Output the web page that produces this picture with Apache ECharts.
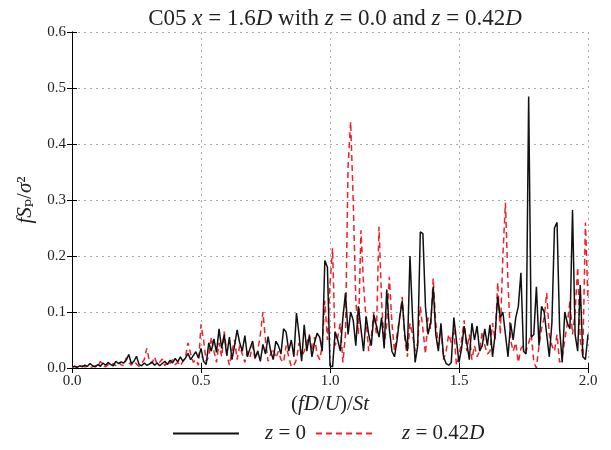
<!DOCTYPE html>
<html><head><meta charset="utf-8">
<script src="https://cdn.jsdelivr.net/npm/echarts@6/dist/echarts.min.js"></script>
<style>html,body{margin:0;padding:0;background:#fff}#c{width:611px;height:450px}</style>
</head><body><div id="c"></div>
<script>
const xTicks = [0.0, 0.5, 1.0, 1.5, 2.0];
const yTicks = [0.0, 0.1, 0.2, 0.3, 0.4, 0.5, 0.6];
const freqStep = 0.01;
const seriesNames = ['z = 0', 'z = 0.42D'];
const z0 = [
0.002,0.003,0.001,0.004,0.002,0.005,0.003,0.008,0.004,0.002,
0.006,0.003,0.009,0.005,0.010,0.006,0.004,0.012,0.008,0.011,
0.009,0.014,0.024,0.008,0.012,0.021,0.006,0.004,0.009,0.005,
0.007,0.011,0.005,0.009,0.004,0.008,0.012,0.006,0.014,0.009,
0.017,0.011,0.020,0.012,0.018,0.026,0.015,0.022,0.029,0.018,
0.035,0.012,0.006,0.045,0.030,0.052,0.028,0.070,0.035,0.060,
0.022,0.055,0.015,0.040,0.068,0.045,0.030,0.058,0.020,0.035,
0.048,0.018,0.030,0.012,0.042,0.025,0.056,0.030,0.015,0.048,
0.040,0.025,0.070,0.064,0.030,0.050,0.020,0.098,0.060,0.012,
0.077,0.030,0.058,0.020,0.045,0.062,0.055,0.030,0.192,0.180,
0.004,0.002,0.065,0.050,0.030,0.090,0.134,0.060,0.100,0.085,
0.040,0.110,0.070,0.030,0.092,0.060,0.040,0.095,0.075,0.055,
0.090,0.035,0.140,0.070,0.030,0.020,0.050,0.090,0.120,0.060,
0.030,0.200,0.090,0.010,0.040,0.243,0.240,0.110,0.060,0.080,
0.145,0.060,0.030,0.080,0.020,0.008,0.005,0.010,0.090,0.050,
0.010,0.035,0.075,0.045,0.015,0.080,0.050,0.075,0.030,0.040,
0.070,0.040,0.077,0.020,0.060,0.127,0.090,0.100,0.060,0.020,
0.080,0.050,0.090,0.110,0.170,0.030,0.025,0.485,0.055,0.060,
0.145,0.040,0.110,0.100,0.060,0.020,0.080,0.250,0.260,0.070,
0.010,0.100,0.080,0.070,0.282,0.060,0.030,0.148,0.020,0.015,
0.060];
const z042 = [
0.001,0.003,0.002,0.001,0.004,0.002,0.003,0.001,0.002,0.004,
0.002,0.012,0.004,0.002,0.006,0.003,0.008,0.004,0.010,0.006,
0.004,0.018,0.010,0.005,0.012,0.007,0.003,0.009,0.015,0.035,
0.012,0.008,0.020,0.006,0.010,0.016,0.004,0.012,0.008,0.015,
0.006,0.010,0.004,0.012,0.020,0.045,0.025,0.010,0.015,0.005,
0.078,0.050,0.012,0.020,0.055,0.030,0.010,0.045,0.020,0.065,
0.025,0.005,0.030,0.050,0.015,0.040,0.025,0.010,0.030,0.020,
0.040,0.015,0.030,0.060,0.100,0.050,0.012,0.025,0.035,0.018,
0.030,0.015,0.010,0.040,0.020,0.002,0.005,0.015,0.045,0.020,
0.030,0.045,0.060,0.030,0.055,0.025,0.015,0.040,0.120,0.050,
0.150,0.214,0.040,0.055,0.080,0.010,0.060,0.360,0.440,0.300,
0.120,0.060,0.246,0.150,0.085,0.030,0.055,0.100,0.060,0.252,
0.120,0.040,0.080,0.163,0.080,0.030,0.060,0.090,0.127,0.050,
0.020,0.080,0.060,0.030,0.045,0.110,0.070,0.025,0.090,0.070,
0.160,0.080,0.040,0.070,0.015,0.030,0.060,0.045,0.070,0.005,
0.020,0.050,0.085,0.030,0.060,0.015,0.040,0.020,0.030,0.065,
0.040,0.025,0.030,0.080,0.050,0.153,0.060,0.200,0.295,0.150,
0.050,0.030,0.045,0.010,0.035,0.040,0.030,0.045,0.060,0.010,
0.000,0.040,0.070,0.090,0.134,0.060,0.040,0.030,0.060,0.010,
0.020,0.050,0.080,0.120,0.060,0.100,0.180,0.050,0.020,0.260,
0.120];

const pairs = arr => arr.map((v, i) => [+(i * freqStep).toFixed(4), v]);
const FONT = '"Liberation Serif", "DejaVu Serif", serif';
const it = { fontStyle: 'italic', fontFamily: FONT, color: '#222' };

const chart = echarts.init(document.getElementById('c'), null, { renderer: 'canvas' });
const axisCommon = {
  type: 'value',
  axisLine: { show: true, lineStyle: { color: '#000', width: 1 } },
  axisTick: { show: true, inside: true, length: 5, lineStyle: { color: '#000' } }
};
const legendText = { fontFamily: FONT, fontSize: 21, color: '#222', rich: { i: Object.assign({ fontSize: 21 }, it) } };
chart.setOption({
  animation: false,
  backgroundColor: '#fff',
  title: {
    text: 'C05 {i|x} = 1.6{i|D} with {i|z} = 0.0 and {i|z} = 0.42{i|D}',
    left: 330, top: 2, textAlign: 'center',
    textStyle: {
      fontFamily: FONT, fontSize: 23, fontWeight: 'normal', color: '#222',
      rich: { i: Object.assign({ fontSize: 23 }, it) }
    }
  },
  grid: { left: 72, right: 23, top: 32, bottom: 82 },
  xAxis: [
    Object.assign({}, axisCommon, {
      min: xTicks[0], max: xTicks[xTicks.length - 1], interval: 0.5,
      position: 'bottom',
      name: '({i|fD}/{i|U})/{i|St}', nameLocation: 'middle', nameGap: 24,
      nameTextStyle: { fontFamily: FONT, fontSize: 21, color: '#222', rich: { i: Object.assign({ fontSize: 21 }, it) } },
      axisLabel: { fontFamily: FONT, fontSize: 15, color: '#222', margin: 6, formatter: v => v.toFixed(1) },
      splitLine: { show: true, lineStyle: { color: '#aaa', type: [2, 4], width: 1 } }
    }),
    Object.assign({}, axisCommon, {
      min: xTicks[0], max: xTicks[xTicks.length - 1], interval: 0.5,
      position: 'top', axisLabel: { show: false }, splitLine: { show: false }
    })
  ],
  yAxis: [
    Object.assign({}, axisCommon, {
      min: yTicks[0], max: yTicks[yTicks.length - 1], interval: 0.1,
      position: 'left',
      name: '{i|fS}ₚ/{i|σ}²', nameLocation: 'middle', nameGap: 26, nameRotate: 90,
      nameTextStyle: { fontFamily: FONT, fontSize: 21, color: '#222', rich: { i: Object.assign({ fontSize: 21 }, it) } },
      axisLabel: { fontFamily: FONT, fontSize: 15, color: '#222', margin: 6, formatter: v => v.toFixed(1) },
      splitLine: { show: true, lineStyle: { color: '#aaa', type: [2, 4], width: 1 } }
    }),
    Object.assign({}, axisCommon, {
      min: yTicks[0], max: yTicks[yTicks.length - 1], interval: 0.1,
      position: 'right', axisLabel: { show: false }, splitLine: { show: false }
    })
  ],
  legend: [
    {
      data: [seriesNames[0]], left: 172, top: 423, padding: 0, itemWidth: 66, itemHeight: 10,
      itemStyle: { opacity: 0 },
      formatter: () => '    {i|z} = 0',
      textStyle: legendText
    },
    {
      data: [seriesNames[1]], left: 315, top: 423, padding: 0, itemWidth: 60, itemHeight: 10,
      itemStyle: { opacity: 0 },
      formatter: () => '    {i|z} = 0.42{i|D}',
      textStyle: legendText
    }
  ],
  series: [
    {
      name: seriesNames[0], type: 'line', data: pairs(z0), symbol: 'none', showSymbol: false,
      lineStyle: { color: '#111', width: 1.5 }, itemStyle: { color: '#111' }, z: 3
    },
    {
      name: seriesNames[1], type: 'line', data: pairs(z042), symbol: 'none', showSymbol: false,
      lineStyle: { color: '#f0202a', width: 1.5, type: [6, 4] }, itemStyle: { color: '#f0202a' }, z: 2
    }
  ]
});
</script></body></html>
